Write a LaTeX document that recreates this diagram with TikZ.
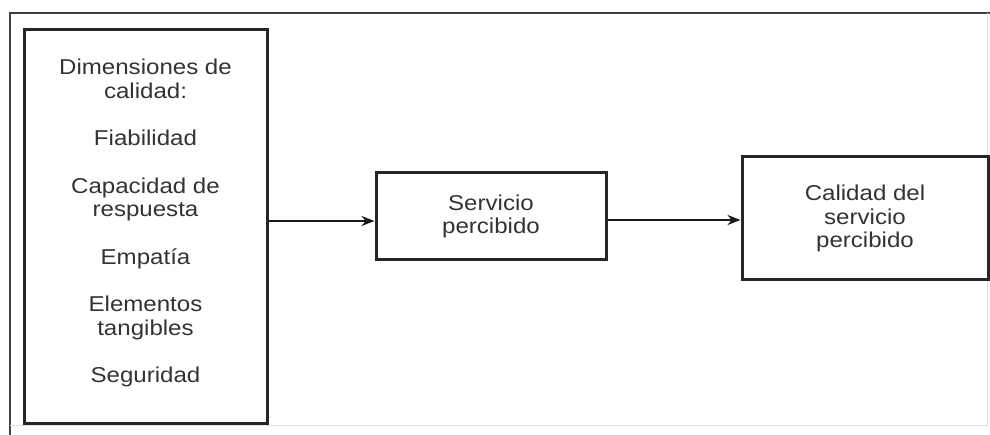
\documentclass[tikz,border=0pt]{standalone}
\usepackage{fontspec}
\setmainfont[FakeStretch=1.12]{Liberation Sans}
\usetikzlibrary{arrows.meta}
\begin{document}
\begin{tikzpicture}[x=1pt,y=-1pt,
  box/.style={draw=black!85, line width=3pt, inner sep=0pt},
  txt/.style={align=center, inner sep=0pt, font=\fontsize{21.5}{23.5}\selectfont, text=black!80},
  conn/.style={line width=2.6pt, draw=black!90, -{Stealth[length=13pt,width=10pt]}}]
\useasboundingbox (0,0) rectangle (990,435);
% outer frame
\coordinate (f1) at (10,435);
\coordinate (f2) at (10,13);
\coordinate (f3) at (990,13);
\coordinate (f4) at (987,425);
\coordinate (f5) at (10,425);
\draw[line width=2.8pt, black!75] (f1) -- (f2) -- (f3);
\draw[line width=1pt, black!12] (f5) -- (f4) -- (987,13);
% boxes
\node[box, minimum width=243pt, minimum height=393pt] (dim) at (145.5,226.5) {};
\node[txt] (dimtxt) at (145.5,223)
  {Dimensiones de\\calidad:\\[24pt]Fiabilidad\\[24pt]Capacidad de\\respuesta\\[24pt]Empatía\\[24pt]Elementos\\tangibles\\[24pt]Seguridad};
\node[box, minimum width=230pt, minimum height=87pt] (serv) at (491,216.5) {};
\node[txt] (servtxt) at (serv) {Servicio\\percibido};
\node[box, minimum width=246pt, minimum height=123pt] (cal) at (865,218.5) {};
\node[txt] (caltxt) at (cal) {Calidad del\\servicio\\percibido};
% connectors
\draw[conn] (dim.east |- 0,221) -- (serv.west |- 0,221);
\draw[conn] (serv.east |- 0,220) -- (cal.west |- 0,220);
\end{tikzpicture}
\end{document}
